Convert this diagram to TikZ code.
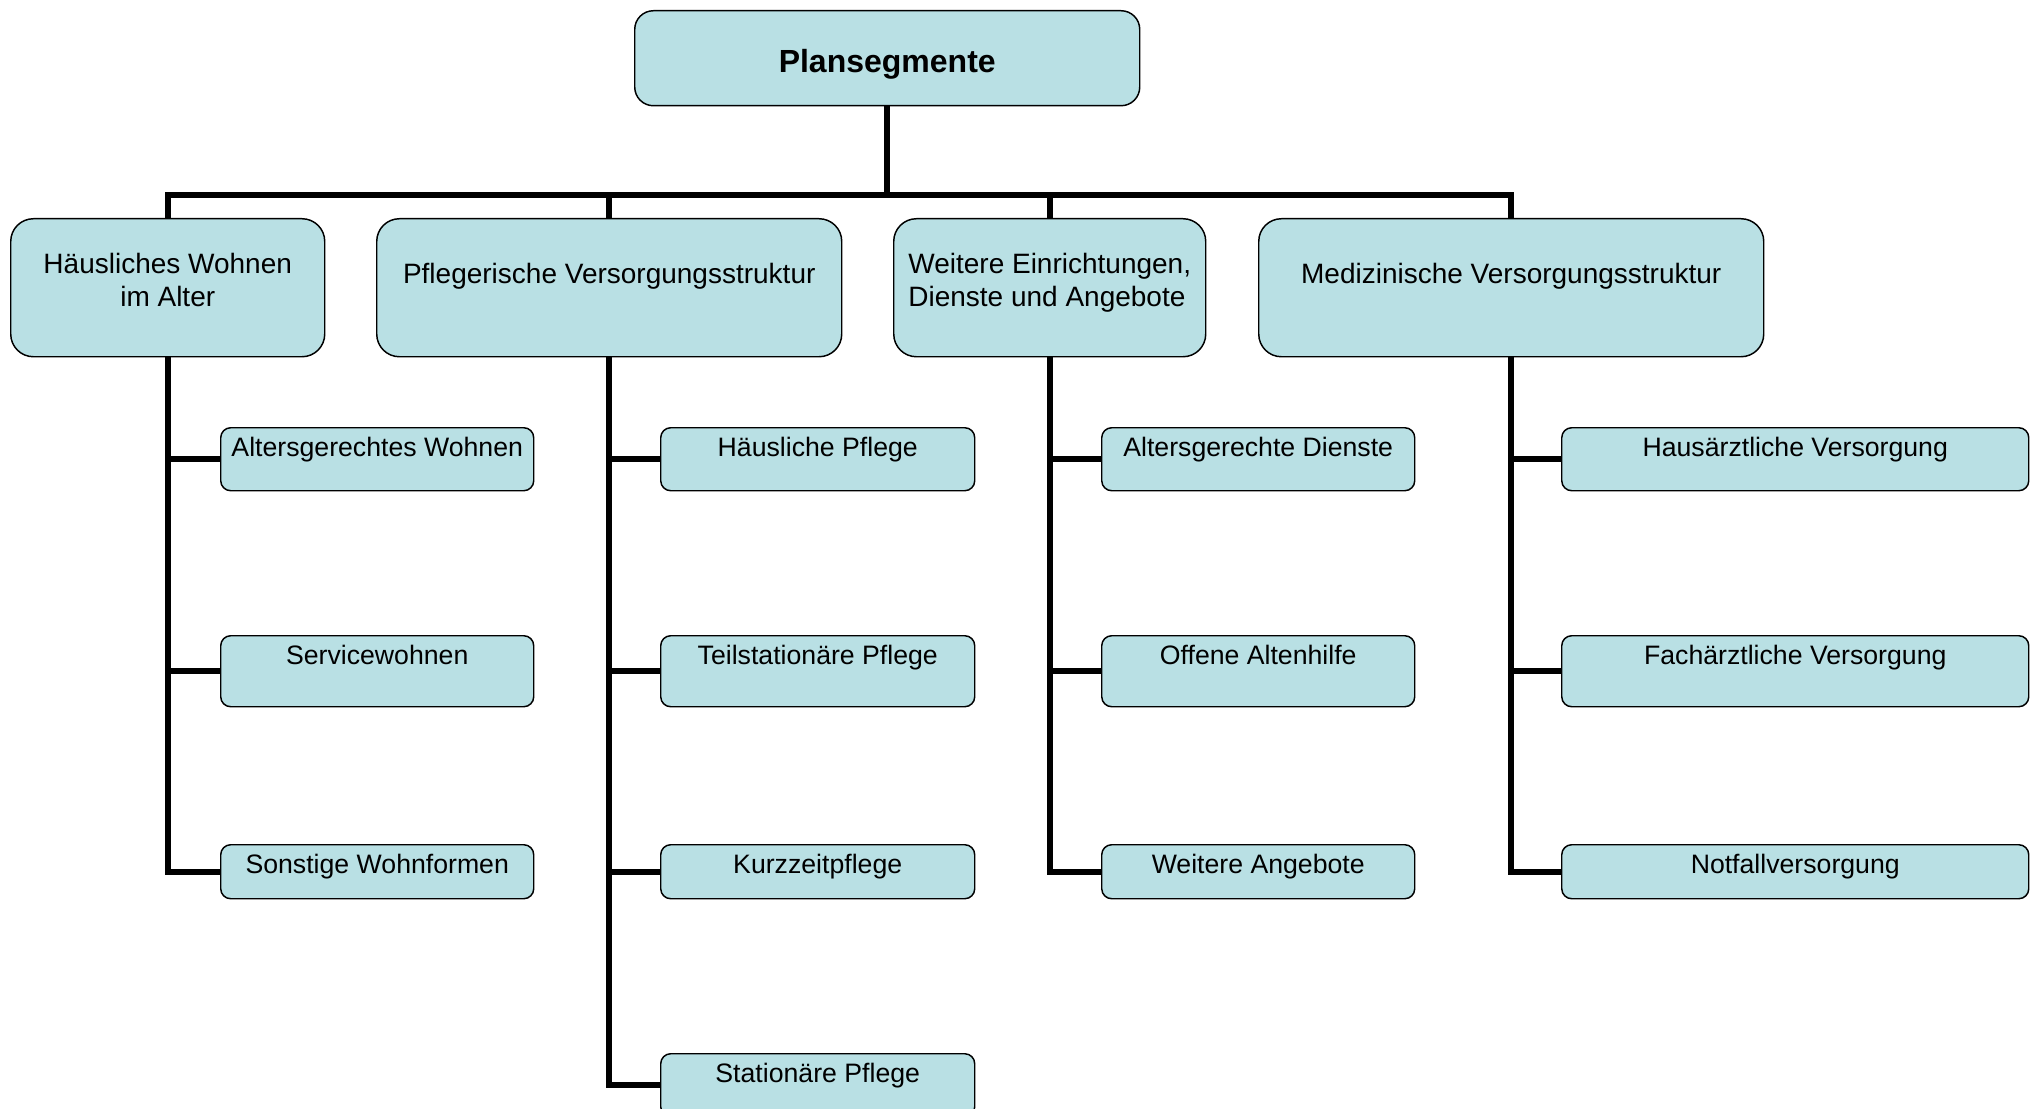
\documentclass[tikz,border=0pt]{standalone}
\usepackage{fontspec}
\setmainfont{Liberation Sans}
\definecolor{boxblue}{RGB}{185,224,228}
\begin{document}
\begin{tikzpicture}[x=0.75pt,y=-0.75pt,
		box/.style={draw=black,line width=1.1pt,fill=boxblue,inner sep=0pt,anchor=north west,font=\fontsize{20}{24}\selectfont},
		kopf/.style={box,rounded corners=14pt,minimum width=378.75pt,text height=46pt,text depth=25.25pt,font=\fontsize{24}{28}\selectfont\bfseries},
		haupt/.style={box,rounded corners=17pt,text height=48.75pt,text depth=54.75pt,align=center,font=\fontsize{21}{24.4}\selectfont},
		zweizeilig/.style={text height=65.6pt,text depth=37.9pt},
		unter/.style={box,rounded corners=7.5pt,text height=21.8pt,text depth=#1},
		conn/.style={line width=4.5pt}]
	\useasboundingbox (0,0) rectangle (2038,1109);
	\clip (0,0) rectangle (2038,1109);
	\node[kopf] (plan) at (634,10) {Plansegmente};
	% Hauptsegmente
	\node[haupt,zweizeilig,minimum width=235.5pt] (wohnen) at (10,218) {Häusliches Wohnen\\im Alter};
	\node[haupt,minimum width=348.75pt] (pflege) at (376,218) {Pflegerische Versorgungsstruktur};
	\node[haupt,zweizeilig,minimum width=234pt,align=left] (weitere) at (893,218) {Weitere Einrichtungen,\\Dienste und Angebote};
	\node[haupt,minimum width=378.75pt] (medizin) at (1258,218) {Medizinische Versorgungsstruktur};
	% Wohnen
	\node[unter=25.45pt,minimum width=234.75pt] (w1) at (220,427) {Altersgerechtes Wohnen};
	\node[unter=31.45pt,minimum width=234.75pt] (w2) at (220,635) {Servicewohnen};
	\node[unter=18.7pt,minimum width=234.75pt] (w3) at (220,844) {Sonstige Wohnformen};
	% Pflege
	\node[unter=25.45pt,minimum width=235.5pt] (p1) at (660,427) {Häusliche Pflege};
	\node[unter=31.45pt,minimum width=235.5pt] (p2) at (660,635) {Teilstationäre Pflege};
	\node[unter=18.7pt,minimum width=235.5pt] (p3) at (660,844) {Kurzzeitpflege};
	\node[unter=25.45pt,minimum width=235.5pt] (p4) at (660,1053) {Stationäre Pflege};
	% Weitere
	\node[unter=25.45pt,minimum width=234.75pt] (d1) at (1101,427) {Altersgerechte Dienste};
	\node[unter=31.45pt,minimum width=234.75pt] (d2) at (1101,635) {Offene Altenhilfe};
	\node[unter=18.7pt,minimum width=234.75pt] (d3) at (1101,844) {Weitere Angebote};
	% Medizin
	\node[unter=25.45pt,minimum width=350.25pt] (m1) at (1561,427) {Hausärztliche Versorgung};
	\node[unter=31.45pt,minimum width=350.25pt] (m2) at (1561,635) {Fachärztliche Versorgung};
	\node[unter=18.7pt,minimum width=350.25pt] (m3) at (1561,844) {Notfallversorgung};
	% Verbindungen
	\coordinate (bar) at (0,195);
	\foreach \s in {wohnen,pflege,weitere,medizin}
		\draw[conn] (plan.south) -- (plan.south |- bar) -| (\s.north);
	\foreach \k in {w1,w2,w3}
		\draw[conn] (wohnen.south) |- (\k.west);
	\foreach \k in {p1,p2,p3,p4}
		\draw[conn] (pflege.south) |- (\k.west);
	\foreach \k in {d1,d2,d3}
		\draw[conn] (weitere.south) |- (\k.west);
	\foreach \k in {m1,m2,m3}
		\draw[conn] (medizin.south) |- (\k.west);
\end{tikzpicture}
\end{document}
